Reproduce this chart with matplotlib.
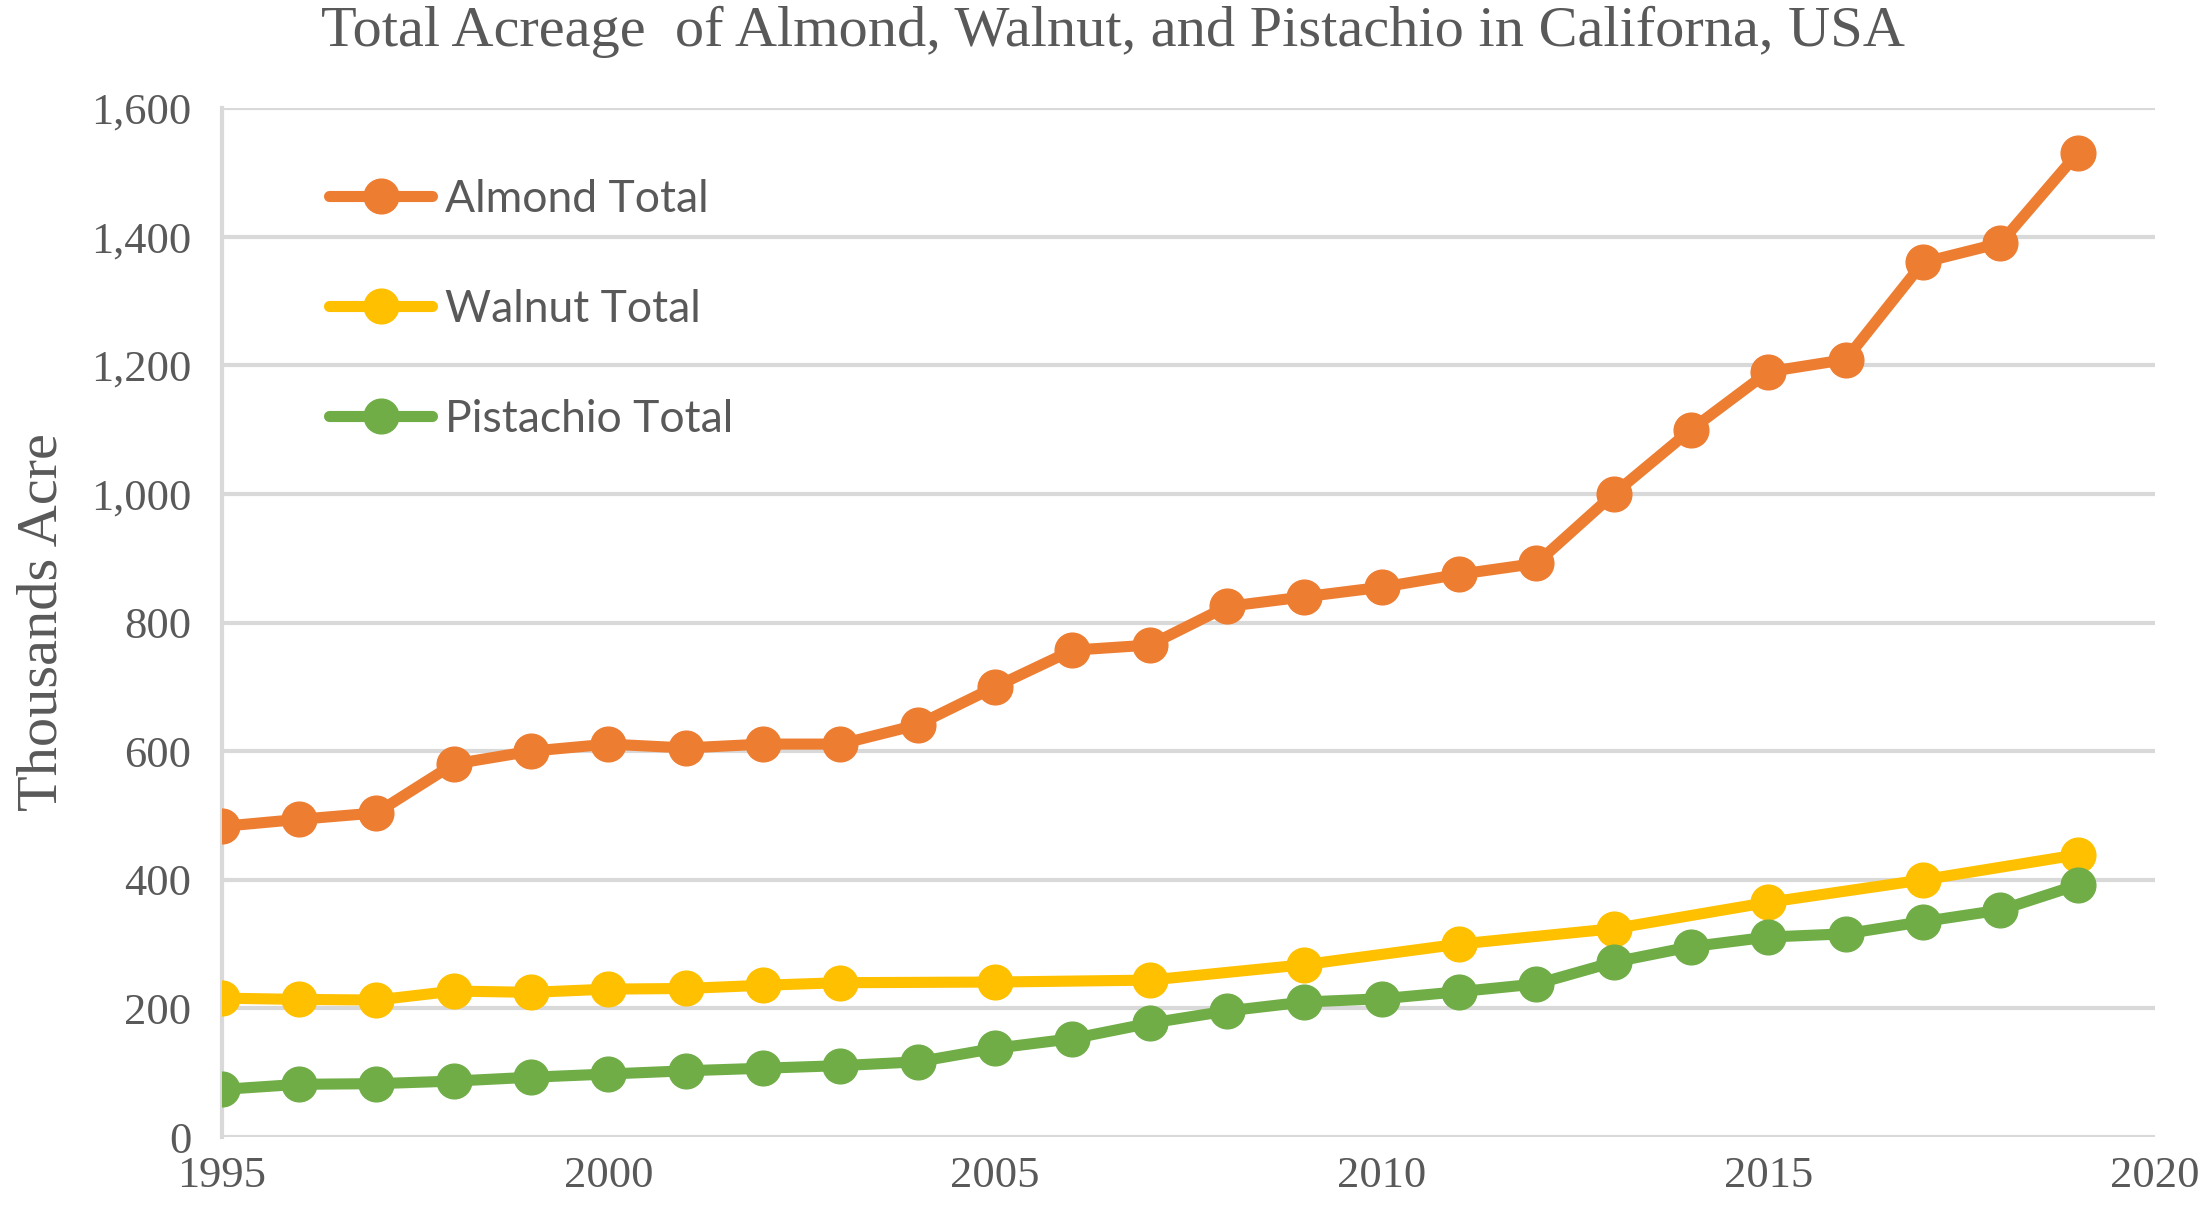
import numpy as np
import matplotlib
matplotlib.use('Agg')
import matplotlib.pyplot as plt

# data (thousand acres)
years = list(range(1995, 2020))
almond = [483, 494, 504, 580, 600, 611, 605, 611, 611, 641, 700, 757, 765,
          825, 840, 855, 875, 892, 1000, 1100, 1190, 1209, 1360, 1390, 1530]

walnut_years = [1995, 1996, 1997, 1998, 1999, 2000, 2001, 2002, 2003,
                2005, 2007, 2009, 2011, 2013, 2015, 2017, 2019]
walnut = [216, 214, 213, 227, 225, 230, 231, 236, 240,
          241, 244, 268, 300, 324, 365, 400, 439]

pistachio = [74, 82, 83, 87, 93, 98, 103, 107, 111, 117, 138, 153, 177,
             196, 210, 215, 226, 238, 272, 296, 311, 316, 335, 353, 392]

series_names = ['Almond Total', 'Walnut Total', 'Pistachio Total']
colors = ['#ED7D31', '#FFC000', '#70AD47']
yticks = [0, 200, 400, 600, 800, 1000, 1200, 1400, 1600]
xticks = [1995, 2000, 2005, 2010, 2015, 2020]

txt = '#595959'
grid = '#D9D9D9'
serif = ['Liberation Serif', 'DejaVu Serif']

fig = plt.figure(figsize=(22, 12.1), dpi=100)
ax = fig.add_axes([0.1008, 0.0603, 0.8788, 0.8504])

kw = dict(lw=8, marker='o', ms=25, solid_capstyle='round', solid_joinstyle='round')
ax.plot(years, almond, color=colors[0], label=series_names[0], **kw)
ax.plot(walnut_years, walnut, color=colors[1], label=series_names[1], **kw)
ax.plot(years, pistachio, color=colors[2], label=series_names[2], **kw)

ax.set_xlim(1995, 2020)
ax.set_ylim(0, 1600)
ax.set_xticks(xticks)
ax.set_yticks(yticks)
ax.set_yticklabels(['{:,}'.format(v) for v in yticks])
ax.yaxis.grid(True, color=grid, lw=3)
ax.set_axisbelow(True)
ax.tick_params(length=0, labelsize=32, labelcolor=txt)
ax.tick_params(axis='y', pad=22)
ax.tick_params(axis='x', pad=14)
for lab in ax.get_xticklabels() + ax.get_yticklabels():
    lab.set_fontfamily(serif)

for s in ['top', 'right', 'bottom']:
    ax.spines[s].set_visible(False)
ax.spines['left'].set_color(grid)
ax.spines['left'].set_linewidth(3)
ax.spines['left'].set_zorder(0.5)

ax.set_ylabel('Thousands Acre', fontsize=42, color=txt, family=serif, labelpad=16)
fig.suptitle('Total Acreage  of Almond, Walnut, and Pistachio in Californa, USA',
             fontsize=42, color=txt, family=serif, x=0.506, y=0.995)

leg = ax.legend(loc='upper left', bbox_to_anchor=(0.035, 0.97), frameon=False,
                prop={'family': ['Lato', 'DejaVu Sans'], 'size': 32},
                handlelength=2.3, handletextpad=0.3, labelspacing=1.55)
for t in leg.get_texts():
    t.set_color(txt)

fig.savefig('out.png', dpi=100, facecolor='white')
